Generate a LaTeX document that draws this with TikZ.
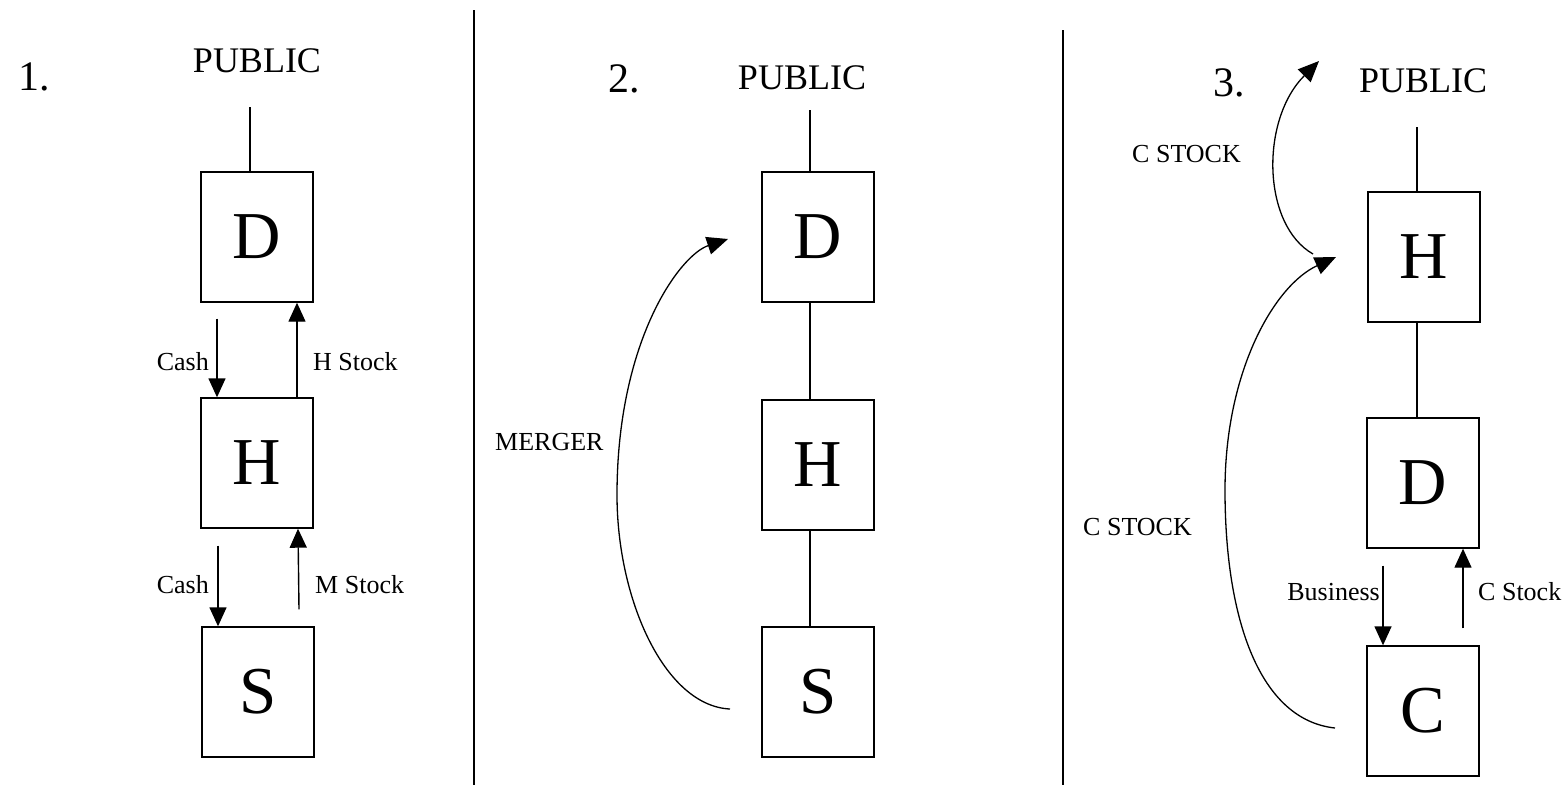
\documentclass[tikz,border=0pt]{standalone}
\usepackage{fontspec}
\setmainfont{Liberation Serif}
\usetikzlibrary{arrows.meta}
\begin{document}
\begin{tikzpicture}[x=1pt,y=-1pt,
  box/.style={draw,line width=1.4pt,minimum width=112pt,minimum height=130pt,inner sep=0pt,font=\fontsize{67}{70}\selectfont},
  lbl/.style={inner sep=0pt,font=\fontsize{26}{28}\selectfont},
  pub/.style={inner sep=0pt,anchor=base,font=\fontsize{36}{38}\selectfont},
  num/.style={inner sep=0pt,anchor=base west,font=\fontsize{42}{44}\selectfont},
  conn/.style={line width=1.2pt},
  arr/.style={line width=1.4pt,-{Triangle[length=19pt,width=17pt]}},
  carr/.style={line width=1.3pt,-{Triangle[length=21pt,width=18pt]}},
  divider/.style={line width=1.4pt}]
\useasboundingbox (0,0) rectangle (1566,785);

% dividers
\coordinate (v1a) at (474,10); \coordinate (v1b) at (474,785);
\coordinate (v2a) at (1063,30); \coordinate (v2b) at (1063,785);
\draw[divider] (v1a) -- (v1b);
\draw[divider] (v2a) -- (v2b);

% ---------- panel 1 ----------
\node[num] (n1) at (18,90) {1.};
\node[pub] (pub1) at (257,72) {PUBLIC};
\node[box] (d1) at (257,237) {D};
\node[box] (h1) at (257,463) {H};
\node[box] (s1) at (258,692) {S};
\coordinate (l1) at (250,107);
\draw[conn] (l1) -- (l1 |- d1.north);
\draw[arr] ([xshift=-40pt,yshift=-16pt]d1.south) -- ([xshift=-40pt]h1.north);
\draw[arr] ([xshift=40pt]h1.north) -- ([xshift=40pt]d1.south);
\draw[arr] ([xshift=-39pt,yshift=-17pt]h1.south) -- ([xshift=-40pt]s1.north);
\draw[arr] ([xshift=41pt,yshift=17pt]s1.north) -- ([xshift=41pt]h1.south);
\node[lbl,anchor=base east] (cash1) at (209,370) {Cash};
\node[lbl,anchor=base west] (hst) at (313,370) {H Stock};
\node[lbl,anchor=base east] (cash2) at (209,593) {Cash};
\node[lbl,anchor=base west] (mst) at (315,593) {M Stock};

% ---------- panel 2 ----------
\node[num] (n2) at (608,92) {2.};
\node[pub] (pub2) at (802,89) {PUBLIC};
\node[box] (d2) at (818,237) {D};
\node[box] (h2) at (818,465) {H};
\node[box] (s2) at (818,692) {S};
\coordinate (l2) at (810,110);
\draw[conn] (l2) -- (l2 |- d2.north);
\draw[conn] (d2.south -| l2) -- (h2.north -| l2);
\draw[conn] (h2.south -| l2) -- (s2.north -| l2);
\node[lbl,anchor=base west] (merger) at (495,450) {MERGER};
\coordinate (m0) at (730,709);
\coordinate (m1) at (728,239);
\draw[carr] (m0) .. controls (665,706) and (617,600) .. (617,495)
               .. controls (617,340) and (680,255) .. (m1);

% ---------- panel 3 ----------
\node[num] (n3) at (1213,96) {3.};
\node[pub] (pub3) at (1423,92) {PUBLIC};
\node[box] (h3) at (1424,257) {H};
\node[box] (d3) at (1423,483) {D};
\node[box] (c3) at (1423,711) {C};
\coordinate (l3) at (1417,127);
\draw[conn] (l3) -- (l3 |- h3.north);
\draw[conn] (h3.south -| l3) -- (d3.north -| l3);
\draw[arr] ([xshift=-40pt,yshift=-17pt]d3.south) -- ([xshift=-40pt]c3.north);
\draw[arr] ([xshift=40pt,yshift=17pt]c3.north) -- ([xshift=40pt]d3.south);
\node[lbl,anchor=base east] (bus) at (1380,600) {Business};
\node[lbl,anchor=base west] (cst) at (1478,600) {C Stock};
\node[lbl,anchor=base west] (cs1) at (1132,162) {C STOCK};
\node[lbl,anchor=base west] (cs2) at (1083,535) {C STOCK};
\coordinate (c0) at (1335,728);
\coordinate (tip3) at (1336,257);
\coordinate (j3) at (1313,254);
\coordinate (tip4) at (1319,61);
\draw[carr] (c0) .. controls (1260,720) and (1225,620) .. (1225,490)
               .. controls (1225,370) and (1275,285) .. (tip3);
\draw[carr] (j3) .. controls (1262,225) and (1260,120) .. (tip4);
\end{tikzpicture}
\end{document}
